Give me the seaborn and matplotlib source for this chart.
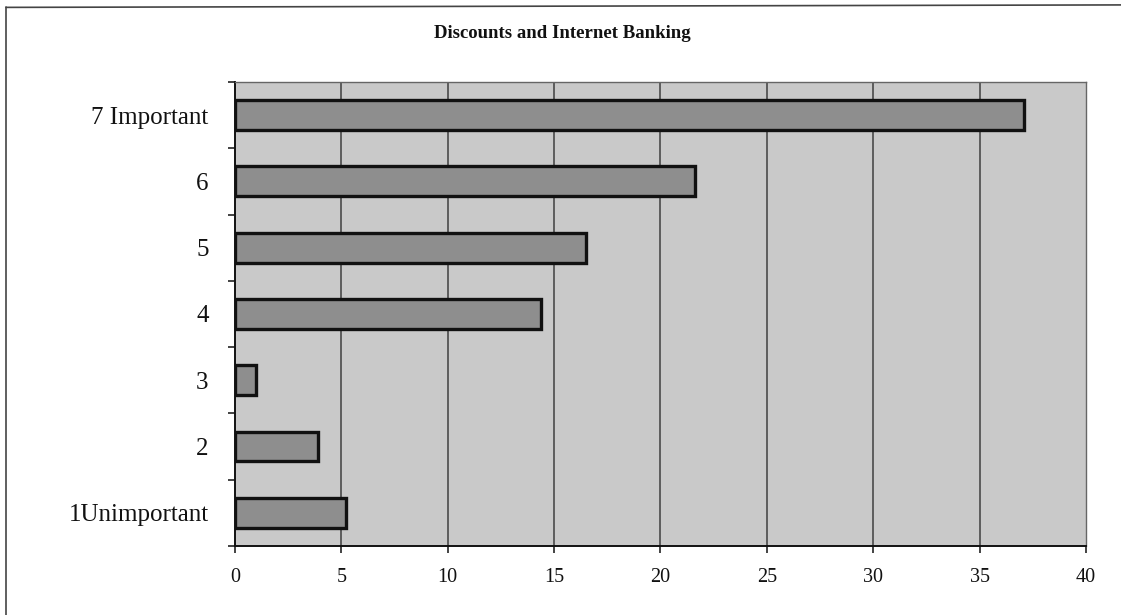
import matplotlib
matplotlib.use("Agg")
import matplotlib.pyplot as plt
from matplotlib.lines import Line2D
import seaborn as sns
import pandas as pd
import numpy as np

# Ratings (top to bottom) and percentage of respondents
categories = ["7 Important", "6", "5", "4", "3", "2", "1Unimportant"]
values = [37.1, 21.6, 16.5, 14.4, 1.0, 3.9, 5.2]
x_ticks = [0, 5, 10, 15, 20, 25, 30, 35, 40]
title = "Discounts and Internet Banking"

df = pd.DataFrame({"rating": categories, "share": values})

sns.set_theme(style="white")
plt.rcParams["font.family"] = ["Liberation Serif", "DejaVu Serif"]

fig = plt.figure(figsize=(11.21, 6.15), dpi=100)
ax = fig.add_axes([0.2096, 0.1122, 0.7592, 0.7545])
ax.set_facecolor("#c9c9c9")

sns.barplot(data=df, x="share", y="rating", order=categories, orient="h",
            color="#8e8e8e", saturation=1, width=0.45,
            edgecolor="#111111", linewidth=2.4, ax=ax, zorder=3)

ax.set_xlim(0, 40)
ax.set_ylim(len(categories) - 0.5, -0.5)
ax.set_xticks(x_ticks)
ax.set_xticklabels([str(t) for t in x_ticks], fontsize=14.5)
ax.tick_params(axis="x", direction="out", length=5, width=1.2, color="#222222",
               pad=11, bottom=True)
ax.tick_params(axis="y", which="major", length=0, pad=19, labelsize=18)
ax.set_yticks(np.arange(-0.5, len(categories), 1.0), minor=True)
ax.tick_params(axis="y", which="minor", direction="out", length=5, width=1.2,
               color="#222222", left=True)
for lab in ax.get_yticklabels():
    lab.set_color("#111111")
for lab in ax.get_xticklabels():
    lab.set_color("#111111")

for xv in x_ticks[1:-1]:
    ax.axvline(xv, color="#4a4a4a", linewidth=1.2, zorder=1)

ax.set_xlabel("")
ax.set_ylabel("")
for side in ["left", "bottom"]:
    ax.spines[side].set_color("#111111")
    ax.spines[side].set_linewidth(1.4)
for side in ["top", "right"]:
    ax.spines[side].set_color("#666666")
    ax.spines[side].set_linewidth(1.0)

fig.text(0.5013, 0.945, title, ha="center", va="center",
         fontsize=13.5, fontweight="bold", color="#111111")

# Outer frame lines along the left and top of the figure
fig.add_artist(Line2D([0.0054, 0.0054], [0.0, 0.988], transform=fig.transFigure,
                      color="#444444", linewidth=1.2))
fig.add_artist(Line2D([0.0054, 1.0], [0.988, 0.992], transform=fig.transFigure,
                      color="#444444", linewidth=1.2))

fig.savefig("out.png", dpi=100, facecolor="white")
